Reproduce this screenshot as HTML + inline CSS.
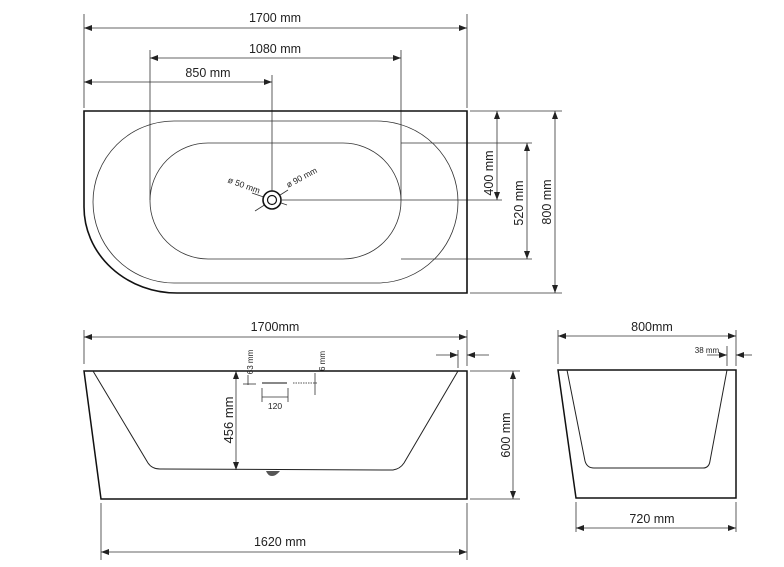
<!DOCTYPE html>
<html><head><style>
html,body{margin:0;padding:0;background:#fff;}
svg{display:block;}
text{font-family:"Liberation Sans",sans-serif;fill:#222;}
</style></head><body>
<svg width="784" height="567" viewBox="0 0 784 567" xmlns="http://www.w3.org/2000/svg">
<defs>
<marker id="a" markerWidth="8" markerHeight="6" refX="8" refY="3" orient="auto-start-reverse" markerUnits="userSpaceOnUse">
<path d="M0,0 L8,3 L0,6 Z" fill="#222"/></marker>
</defs>
<g stroke="#333" stroke-width="0.8" fill="none">
<!-- top view dims -->
<line x1="84" y1="14" x2="84" y2="108"/><line x1="467" y1="14" x2="467" y2="108"/>
<line x1="84" y1="28" x2="467" y2="28" marker-start="url(#a)" marker-end="url(#a)"/>
<line x1="150" y1="50" x2="150" y2="200"/><line x1="401" y1="50" x2="401" y2="200"/>
<line x1="150" y1="58" x2="401" y2="58" marker-start="url(#a)" marker-end="url(#a)"/>
<line x1="272" y1="75" x2="272" y2="195"/>
<line x1="84" y1="82" x2="272" y2="82" marker-start="url(#a)" marker-end="url(#a)"/>
<!-- right dims -->
<line x1="470" y1="111" x2="562" y2="111"/><line x1="470" y1="293" x2="562" y2="293"/>
<line x1="401" y1="143" x2="532" y2="143"/><line x1="401" y1="259" x2="532" y2="259"/>
<line x1="282" y1="200" x2="502" y2="200"/>
<line x1="497" y1="111" x2="497" y2="200" marker-start="url(#a)" marker-end="url(#a)"/>
<line x1="527" y1="143" x2="527" y2="259" marker-start="url(#a)" marker-end="url(#a)"/>
<line x1="555" y1="111" x2="555" y2="293" marker-start="url(#a)" marker-end="url(#a)"/>
<!-- ovals -->
<rect x="93" y="121" width="365" height="162" rx="81" ry="81"/>
<rect x="150" y="143" width="251" height="116" rx="58" ry="58"/>
<line x1="252" y1="193" x2="287" y2="205"/>
<line x1="255" y1="211" x2="288" y2="190"/>
</g>
<path d="M84,111 H467 V293 H177 A93,86 0 0 1 84,207 Z" fill="none" stroke="#111" stroke-width="1.6"/>
<circle cx="272" cy="200" r="9" fill="#fff" stroke="#111" stroke-width="1.6"/>
<circle cx="272" cy="200" r="4.5" fill="none" stroke="#111" stroke-width="1.2"/>
<text x="275" y="22" font-size="12.5" text-anchor="middle">1700 mm</text>
<text x="275" y="53" font-size="12.5" text-anchor="middle">1080 mm</text>
<text x="208" y="77" font-size="12.5" text-anchor="middle">850 mm</text>
<text x="243" y="188" font-size="8.5" text-anchor="middle" transform="rotate(20 243 188)">ø 50 mm</text>
<text x="303" y="180" font-size="8.5" text-anchor="middle" transform="rotate(-28 303 180)">ø 90 mm</text>
<text font-size="12.5" text-anchor="middle" transform="translate(493,173) rotate(-90)">400 mm</text>
<text font-size="12.5" text-anchor="middle" transform="translate(523,203) rotate(-90)">520 mm</text>
<text font-size="12.5" text-anchor="middle" transform="translate(551,202) rotate(-90)">800 mm</text>

<!-- side view -->
<g stroke="#333" stroke-width="0.8" fill="none">
<line x1="84" y1="330" x2="84" y2="364"/><line x1="467" y1="330" x2="467" y2="366"/>
<line x1="84" y1="337" x2="467" y2="337" marker-start="url(#a)" marker-end="url(#a)"/>
<line x1="101" y1="503" x2="101" y2="560"/><line x1="467" y1="503" x2="467" y2="560"/>
<line x1="101" y1="552" x2="467" y2="552" marker-start="url(#a)" marker-end="url(#a)"/>
<line x1="470" y1="371" x2="520" y2="371"/><line x1="470" y1="499" x2="520" y2="499"/>
<line x1="513" y1="371" x2="513" y2="499" marker-start="url(#a)" marker-end="url(#a)"/>
<line x1="236" y1="371" x2="236" y2="470" marker-start="url(#a)" marker-end="url(#a)"/>
<line x1="458" y1="350" x2="458" y2="368"/>
<line x1="436" y1="355" x2="458" y2="355" marker-end="url(#a)"/>
<line x1="489" y1="355" x2="467" y2="355" marker-end="url(#a)"/>
<line x1="248" y1="375" x2="248" y2="385"/>
<line x1="262" y1="383" x2="287" y2="383" stroke="#888" stroke-width="2"/>
<line x1="293" y1="383" x2="318" y2="383" stroke="#aaa" stroke-width="2" stroke-dasharray="1.5 1"/>
<line x1="315" y1="373" x2="315" y2="395"/>
<line x1="262" y1="388" x2="262" y2="402"/><line x1="288" y1="388" x2="288" y2="402"/>
<line x1="262" y1="397" x2="288" y2="397"/>
<line x1="243" y1="384" x2="256" y2="384"/>
</g>
<path d="M84,371 H467 V499 H101 Z" fill="none" stroke="#111" stroke-width="1.5"/>
<path d="M93,371 L148,463 Q152,469 160,469 L393,470 Q400,469 404,463 L458,371" fill="none" stroke="#222" stroke-width="1"/>
<path d="M266,471 Q268,476 272,476 Q276,476 280,471 Z" fill="#555"/>
<text x="275" y="331" font-size="12.5" text-anchor="middle">1700mm</text>
<text x="280" y="546" font-size="12.5" text-anchor="middle">1620 mm</text>
<text font-size="12.5" text-anchor="middle" transform="translate(510,435) rotate(-90)">600 mm</text>
<text font-size="13" text-anchor="middle" transform="translate(233,420) rotate(-90)">456 mm</text>
<text font-size="8" text-anchor="middle" transform="translate(253,362) rotate(-90)">63 mm</text>
<text font-size="8" text-anchor="middle" transform="translate(325,361) rotate(-90)">6 mm</text>
<text x="275" y="409" font-size="8.5" text-anchor="middle">120</text>

<!-- end view -->
<g stroke="#333" stroke-width="0.8" fill="none">
<line x1="558" y1="330" x2="558" y2="364"/><line x1="736" y1="330" x2="736" y2="366"/>
<line x1="558" y1="336" x2="736" y2="336" marker-start="url(#a)" marker-end="url(#a)"/>
<line x1="727" y1="346" x2="727" y2="366"/>
<line x1="707" y1="355" x2="727" y2="355" marker-end="url(#a)"/>
<line x1="752" y1="355" x2="736" y2="355" marker-end="url(#a)"/>
<line x1="576" y1="502" x2="576" y2="532"/><line x1="736" y1="502" x2="736" y2="532"/>
<line x1="576" y1="528" x2="736" y2="528" marker-start="url(#a)" marker-end="url(#a)"/>
</g>
<path d="M558,370 H736 V498 H576 Z" fill="none" stroke="#111" stroke-width="1.5"/>
<path d="M567,370 L585,461 Q587,468 594,468 L703,468 Q709,468 710,461 L727,370" fill="none" stroke="#222" stroke-width="1"/>
<text x="652" y="331" font-size="12.5" text-anchor="middle">800mm</text>
<text x="707" y="353" font-size="8" text-anchor="middle">38 mm</text>
<text x="652" y="523" font-size="12.5" text-anchor="middle">720 mm</text>
</svg>
</body></html>
